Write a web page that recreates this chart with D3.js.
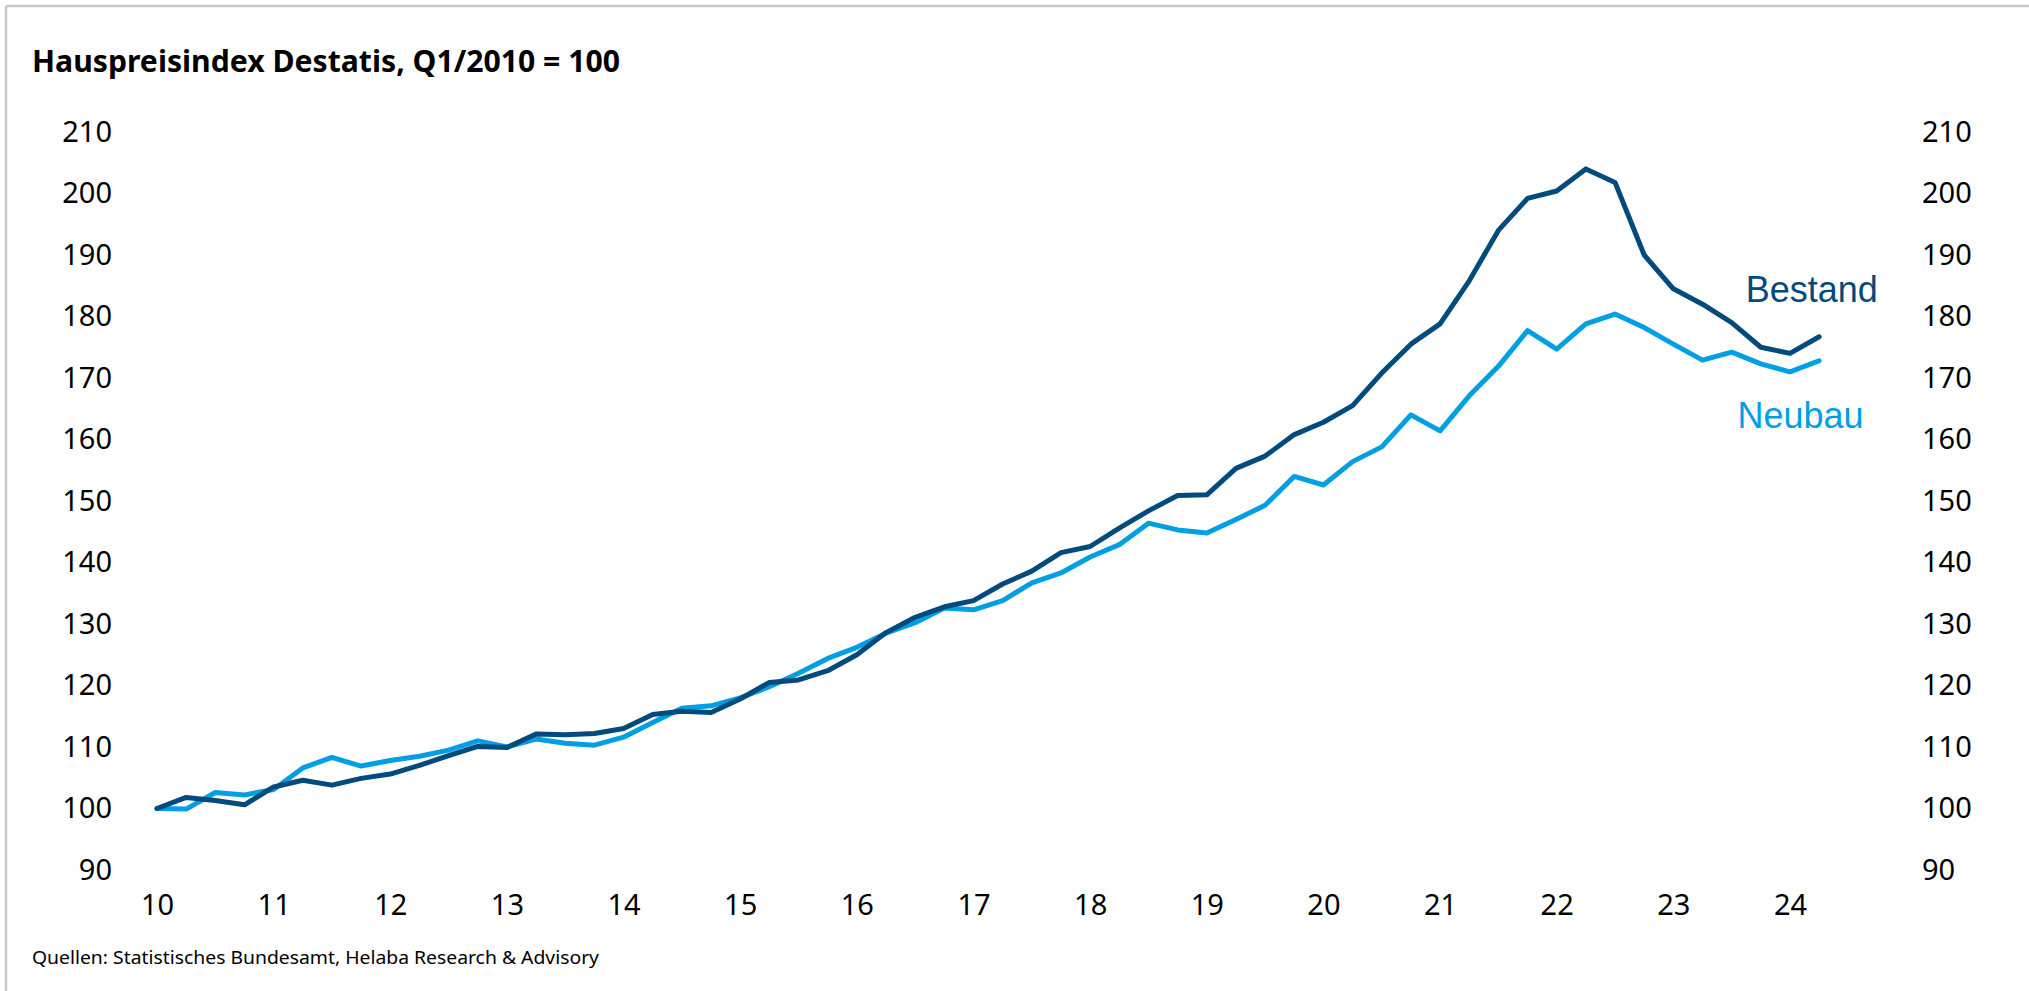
<!DOCTYPE html>
<html>
<head>
<meta charset="utf-8">
<script src="https://cdn.jsdelivr.net/npm/d3@7"></script>
<style>
  body { margin: 0; background: #fff; }
  svg { display: block; }
</style>
</head>
<body>
<div id="chart"></div>
<script>
// quarterly values, Q1/2010 .. Q2/2024
const startYear = 2010;
const bestand = [
  100, 101.8, 101.3, 100.6,
  103.5, 104.6, 103.8, 104.9,
  105.6, 107, 108.6, 110.1,
  109.9, 112.1, 112, 112.2,
  113, 115.3, 115.8, 115.6,
  117.8, 120.5, 120.9, 122.4,
  125, 128.6, 131.1, 132.8,
  133.8, 136.5, 138.6, 141.6,
  142.6, 145.6, 148.4, 150.9,
  151, 155.3, 157.3, 160.8,
  162.8, 165.5, 170.8, 175.5,
  178.8, 185.8, 194, 199.2,
  200.4, 204, 201.8, 190,
  184.5, 182, 179, 175,
  174, 176.7
];
const neubau = [
  100, 99.9, 102.6, 102.2,
  103.1, 106.6, 108.3, 106.9,
  107.8, 108.5, 109.5, 111,
  110, 111.3, 110.6, 110.3,
  111.6, 114, 116.3, 116.7,
  118, 119.8, 122, 124.4,
  126.2, 128.5, 130.2, 132.6,
  132.3, 133.8, 136.7, 138.3,
  140.9, 142.9, 146.4, 145.3,
  144.8, 147, 149.3, 154,
  152.6, 156.4, 158.8, 164,
  161.4, 167.1, 171.9, 177.7,
  174.7, 178.8, 180.4, 178.2,
  175.5, 172.9, 174.2, 172.3,
  171, 172.8
];
const xTicks = d3.range(2010, 2025);
const yTicks = d3.range(90, 211, 10);
const seriesNames = ["Bestand", "Neubau"];
const seriesColors = ["#004a7c", "#009fe3"];
// label anchor (year, value) for the series names
const labelYears = [2023.62, 2023.55];
const labelValues = [182.4, 161.9];

const title = "Hauspreisindex Destatis, Q1/2010 = 100";
const source = "Quellen: Statistisches Bundesamt, Helaba Research & Advisory";

const width = 2029, height = 991;

const svg = d3
  .select("#chart")
  .append("svg")
  .attr("width", width)
  .attr("height", height);

// frame (top and left edge visible)
svg.append("line")
  .attr("x1", 6).attr("x2", width).attr("y1", 6).attr("y2", 6)
  .attr("stroke", "#c8c8c8").attr("stroke-width", 2.5);
svg.append("line")
  .attr("x1", 6).attr("x2", 6).attr("y1", 6).attr("y2", height)
  .attr("stroke", "#c8c8c8").attr("stroke-width", 2.5);

const x = d3.scaleLinear().domain([2010, 2024]).range([157, 1790]);
const y = d3.scaleLinear().domain([90, 210]).range([870, 132]);

const font = "'Noto Sans', 'Open Sans', sans-serif";

// title
svg.append("text")
  .attr("x", 32)
  .attr("y", 72)
  .attr("font-family", font)
  .attr("font-weight", "bold")
  .attr("font-size", 30)
  .attr("textLength", 588)
  .attr("lengthAdjust", "spacingAndGlyphs")
  .attr("fill", "#000")
  .text(title);

// axes
const styleAxis = (g, anchor) => {
  g.select(".domain").remove();
  g.selectAll("line").remove();
  g.selectAll("text")
    .attr("font-family", font)
    .attr("font-size", 29)
    .attr("fill", "#000")
    .style("text-anchor", anchor);
};

svg.append("g")
  .attr("transform", "translate(112,0)")
  .call(d3.axisLeft(y).tickValues(yTicks).tickSize(0).tickPadding(0))
  .call((g) => styleAxis(g, "end"));

svg.append("g")
  .attr("transform", "translate(1922,0)")
  .call(d3.axisRight(y).tickValues(yTicks).tickSize(0).tickPadding(0))
  .call((g) => styleAxis(g, "start"));

svg.append("g")
  .attr("transform", "translate(0,894)")
  .call(
    d3.axisBottom(x)
      .tickValues(xTicks)
      .tickSize(0)
      .tickPadding(0)
      .tickFormat((d) => String(d).slice(2))
  )
  .call((g) => styleAxis(g, "middle"));

// lines
const line = d3
  .line()
  .x((d, i) => x(startYear + i / 4))
  .y((d) => y(d))
  .curve(d3.curveLinear);

// Neubau first so Bestand sits on top
[neubau, bestand].forEach((data, k) => {
  const color = k === 0 ? seriesColors[1] : seriesColors[0];
  svg.append("path")
    .datum(data)
    .attr("fill", "none")
    .attr("stroke", color)
    .attr("stroke-width", 5)
    .attr("stroke-linejoin", "round")
    .attr("stroke-linecap", "round")
    .attr("d", line);
});

// series labels
seriesNames.forEach((name, i) => {
  svg.append("text")
    .attr("x", x(labelYears[i]))
    .attr("y", y(labelValues[i]))
    .attr("font-family", "'Liberation Sans', Arial, sans-serif")
    .attr("font-size", 36)
    .attr("fill", seriesColors[i])
    .text(name);
});

// source
svg.append("text")
  .attr("x", 32)
  .attr("y", 964)
  .attr("font-family", font)
  .attr("font-size", 18)
  .attr("textLength", 567)
  .attr("lengthAdjust", "spacingAndGlyphs")
  .attr("fill", "#000")
  .text(source);
</script>
</body>
</html>
